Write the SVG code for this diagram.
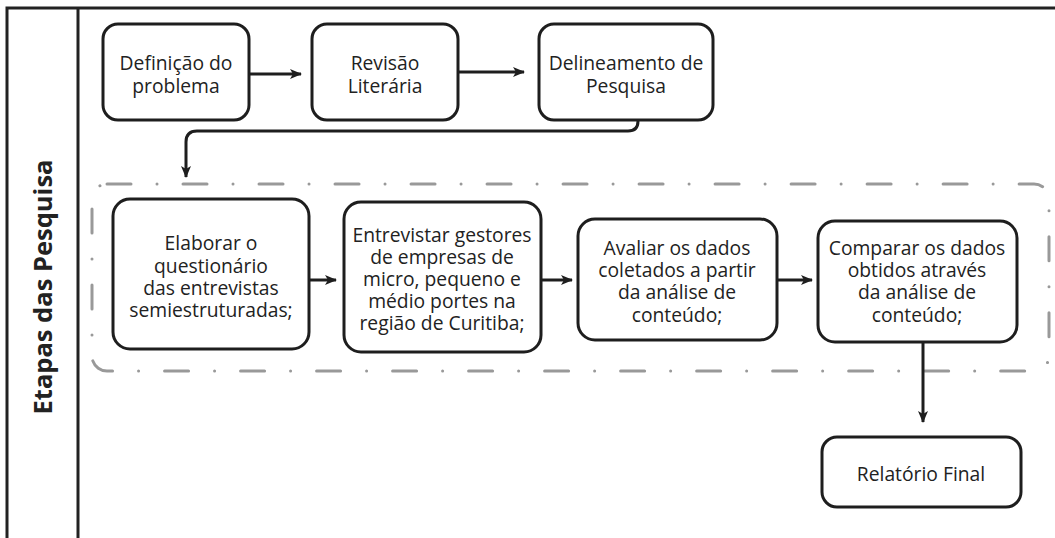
<svg xmlns="http://www.w3.org/2000/svg" width="1055" height="538" viewBox="0 0 1055 538">
<defs>
<style>
.box{fill:#fff;stroke:#1e1e1e;stroke-width:3}
.t{font-family:"Open Sans","Liberation Sans",sans-serif;font-size:19.3px;fill:#222;text-anchor:middle}
.ln{fill:none;stroke:#1e1e1e;stroke-width:3}
.frame{fill:none;stroke:#222;stroke-width:3}
.grp{fill:none;stroke:#999;stroke-width:3;stroke-linecap:round;stroke-dasharray:24 26 0.01 26}
</style>
<marker id="ah" viewBox="0 0 12 10" refX="11" refY="5" markerWidth="12" markerHeight="10" markerUnits="userSpaceOnUse" orient="auto">
<path d="M0,0 L12,5 L0,10 L3,5 Z" fill="#1e1e1e"/>
</marker>
</defs>
<rect width="1055" height="538" fill="#fff"/>
<g id="frame">
<path class="frame" d="M7,538 V8 H1055"/>
<path class="frame" d="M78,8 V538"/>
<text x="0" y="0" transform="translate(52,287) rotate(-90)" font-family="'Open Sans','Liberation Sans',sans-serif" font-size="25.5" font-weight="bold" fill="#222" text-anchor="middle">Etapas das Pesquisa</text>
</g>
<g id="group-etapas">
<rect class="grp" x="92" y="184" width="957" height="187" rx="15"/>
</g>
<g id="connectors">
<path class="ln" d="M249,74 H301" marker-end="url(#ah)"/>
<path class="ln" d="M458,72 H524" marker-end="url(#ah)"/>
<path class="ln" d="M638,120 V121 Q638,131 628,131 H197 Q186,131 186,142 V177" marker-end="url(#ah)"/>
<path class="ln" d="M309,280 H336" marker-end="url(#ah)"/>
<path class="ln" d="M541,280 H572" marker-end="url(#ah)"/>
<path class="ln" d="M777,280 H812" marker-end="url(#ah)"/>
<path class="ln" d="M923,342 V422" marker-end="url(#ah)"/>
</g>
<g id="n1">
<rect class="box" x="103" y="24" width="146" height="96" rx="15"/>
<text class="t" x="176" y="70">Definição do</text>
<text class="t" x="176" y="93">problema</text>
</g>
<g id="n2">
<rect class="box" x="312" y="24" width="146" height="96" rx="15"/>
<text class="t" x="385" y="70">Revisão</text>
<text class="t" x="385" y="93">Literária</text>
</g>
<g id="n3">
<rect class="box" x="539" y="24" width="174" height="96" rx="15"/>
<text class="t" x="626" y="70">Delineamento de</text>
<text class="t" x="626" y="93">Pesquisa</text>
</g>
<g id="n4">
<rect class="box" x="113" y="199" width="196" height="150" rx="17"/>
<text class="t" x="211" y="250">Elaborar o</text>
<text class="t" x="211" y="273">questionário</text>
<text class="t" x="211" y="295">das entrevistas</text>
<text class="t" x="211" y="317">semiestruturadas;</text>
</g>
<g id="n5">
<rect class="box" x="344" y="202" width="197" height="150" rx="17"/>
<text class="t" x="442" y="242">Entrevistar gestores</text>
<text class="t" x="442" y="264">de empresas de</text>
<text class="t" x="442" y="286">micro, pequeno e</text>
<text class="t" x="442" y="308">médio portes na</text>
<text class="t" x="442" y="330">região de Curitiba;</text>
</g>
<g id="n6">
<rect class="box" x="578" y="219" width="199" height="121" rx="17"/>
<text class="t" x="677" y="255">Avaliar os dados</text>
<text class="t" x="677" y="277">coletados a partir</text>
<text class="t" x="677" y="299">da análise de</text>
<text class="t" x="677" y="322">conteúdo;</text>
</g>
<g id="n7">
<rect class="box" x="818" y="221" width="199" height="121" rx="17"/>
<text class="t" x="917" y="255">Comparar os dados</text>
<text class="t" x="917" y="277">obtidos através</text>
<text class="t" x="917" y="299">da análise de</text>
<text class="t" x="917" y="322">conteúdo;</text>
</g>
<g id="n8">
<rect class="box" x="822" y="437" width="199" height="70" rx="15"/>
<text class="t" x="921" y="481">Relatório Final</text>
</g>
</svg>
